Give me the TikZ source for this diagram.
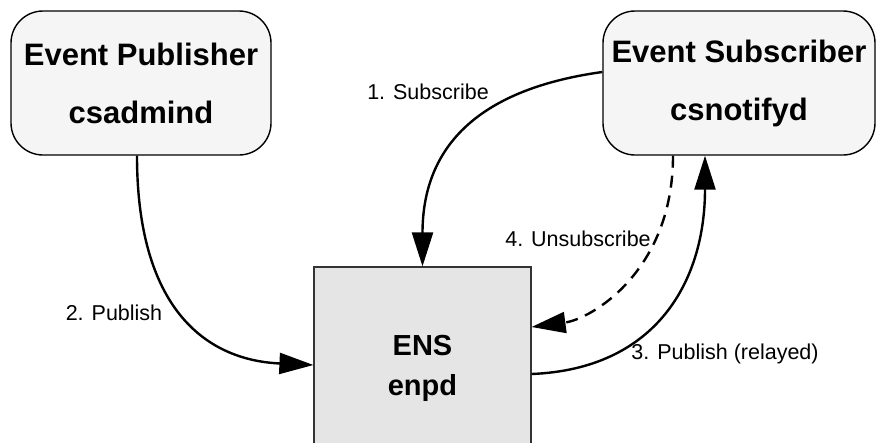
\documentclass[tikz,border=0pt]{standalone}
\usepackage{fontspec}
\setmainfont{Liberation Sans}
\usetikzlibrary{arrows.meta}
\definecolor{boxfill}{HTML}{F5F5F5}
\definecolor{ensfill}{HTML}{E5E5E5}
\begin{document}
\begin{tikzpicture}[x=1pt,y=-1pt,
  roundbox/.style={draw=black, line width=1.4pt, fill=boxfill, rounded corners=32pt,
    inner sep=0pt, align=center, font=\bfseries\fontsize{31}{58}\selectfont},
  ensbox/.style={draw=black!80, line width=1.2pt, fill=ensfill, inner sep=0pt,
    align=center, font=\bfseries\fontsize{29}{40}\selectfont},
  conn/.style={line width=2.4pt, -{Triangle[length=34pt,width=21pt]}},
  lbl/.style={font=\fontsize{21.5}{24}\selectfont, inner sep=0pt}]
\useasboundingbox (0,0) rectangle (878,442);
\node[roundbox, minimum width=260pt, minimum height=144pt] (pub) at (141,83) {Event Publisher\\csadmind};
\node[roundbox, minimum width=272pt, minimum height=144pt] (sub) at (739,83) {Event Subscriber\\csnotifyd};
\node[ensbox, minimum width=217pt, minimum height=202pt] (ens) at (422.5,368) {ENS\\enpd};
% 1. Subscribe
\draw[conn] ([yshift=11pt]sub.west) .. controls +(-130,18) and +(0,-115) .. (ens.north);
% 2. Publish
\draw[conn] ([xshift=-4pt]pub.south) .. controls +(0,150) and +(-110,-5) .. ([yshift=3pt]ens.west);
% 3. Publish (relayed)
\draw[conn] ([yshift=-6pt]ens.east) .. controls +(125,-5) and +(0,125) .. ([xshift=-34pt]sub.south);
% 4. Unsubscribe
\draw[conn, dash pattern=on 12pt off 8pt] ([xshift=-66pt]sub.south) .. controls +(0,115) and +(60,-8) .. ([yshift=41pt]ens.east);
\node[lbl] (l1) at (428,92) {1. Subscribe};
\node[lbl] (l2) at (114,313) {2. Publish};
\node[lbl] (l3) at (725,354) {3. Publish (relayed)};
\node[lbl] (l4) at (578,239) {4. Unsubscribe};
\end{tikzpicture}
\end{document}
